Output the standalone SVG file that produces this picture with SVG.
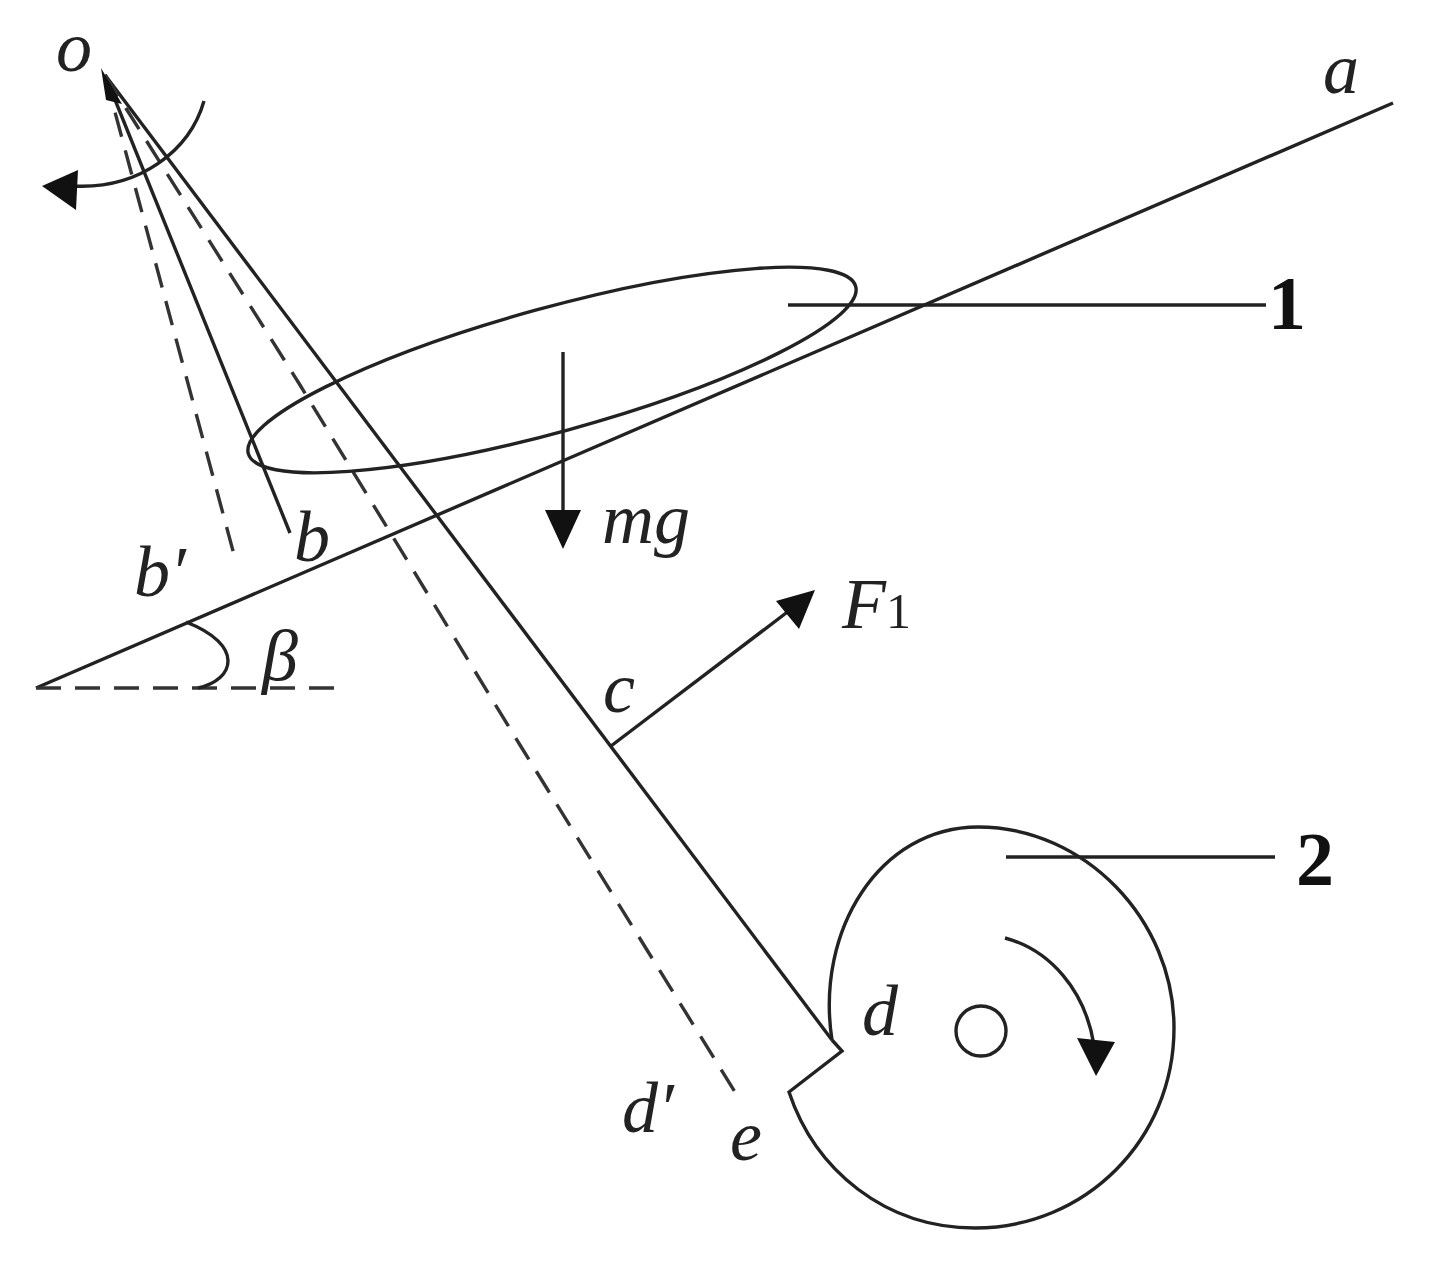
<svg xmlns="http://www.w3.org/2000/svg" width="1430" height="1267" viewBox="0 0 1430 1267">
<style>
.l{fill:none;stroke:#222;stroke-width:3.4}
.d{fill:none;stroke:#333;stroke-width:3.4;stroke-dasharray:25 14}
.h{fill:#111;stroke:none}
.t{font-family:"Liberation Serif",serif;font-style:italic;font-size:72px;fill:#222}
.n{font-family:"Liberation Serif",serif;font-weight:bold;font-size:76px;fill:#111}
</style>
<rect width="1430" height="1267" fill="#fff"/>
<g id="connectors">
<path class="l" d="M36 688L1393 103"/>
<path class="d" d="M36 688H335"/>
<path class="l" d="M198 688C235 680 245 645 186 622"/>
<path class="l" d="M105 75L832 1040"/>
<path class="l" d="M105 75L290 533"/>
<path class="d" d="M105 75L236 562"/>
<path class="d" d="M105 75L300 385L520 745L735 1092"/>
<path class="l" d="M204 101C190 150 140 190 72 186"/>
<polygon class="h" points="42,186 78,170 76,210"/>
<polygon class="h" points="101,68 122,104 106,100"/>
<path class="l" d="M563 352V520"/>
<polygon class="h" points="545,510 581,510 563,549"/>
<path class="l" d="M611 746L790 610"/>
<polygon class="h" points="776,601 815,590 799,629"/>
<path class="l" d="M788 305H1266"/>
<path class="l" d="M1006 857H1275"/>
<path class="l" d="M1005 938C1050 950 1085 990 1094 1045"/>
<polygon class="h" points="1077,1038 1115,1042 1096,1076"/>
</g>
<g id="node-1"><ellipse class="l" cx="552" cy="370" rx="315" ry="62" transform="rotate(-15.4 552 370)"/><text class="n" x="1268" y="329">1</text></g>
<g id="node-2"><path class="l" d="M832 1040C815 930 880 827 978 827C1085 827 1174 920 1174 1028C1174 1140 1085 1228 975 1228C885 1228 815 1170 789 1092L842 1051L832 1040"/><circle class="l" cx="981" cy="1031" r="25"/><text class="n" x="1296" y="885">2</text></g>
<g id="labels">
<text class="t" x="56" y="71">o</text>
<text class="t" x="1323" y="93">a</text>
<text class="t" x="294" y="561">b</text>
<text class="t" x="134" y="596">b′</text>
<text class="t" x="262" y="680">β</text>
<text class="t" x="602" y="543">mg</text>
<text class="t" x="842" y="628">F<tspan font-style="normal" font-size="50">1</tspan></text>
<text class="t" x="603" y="712">c</text>
<text class="t" x="862" y="1035">d</text>
<text class="t" x="622" y="1132">d′</text>
<text class="t" x="730" y="1160">e</text>
</g>
</svg>
